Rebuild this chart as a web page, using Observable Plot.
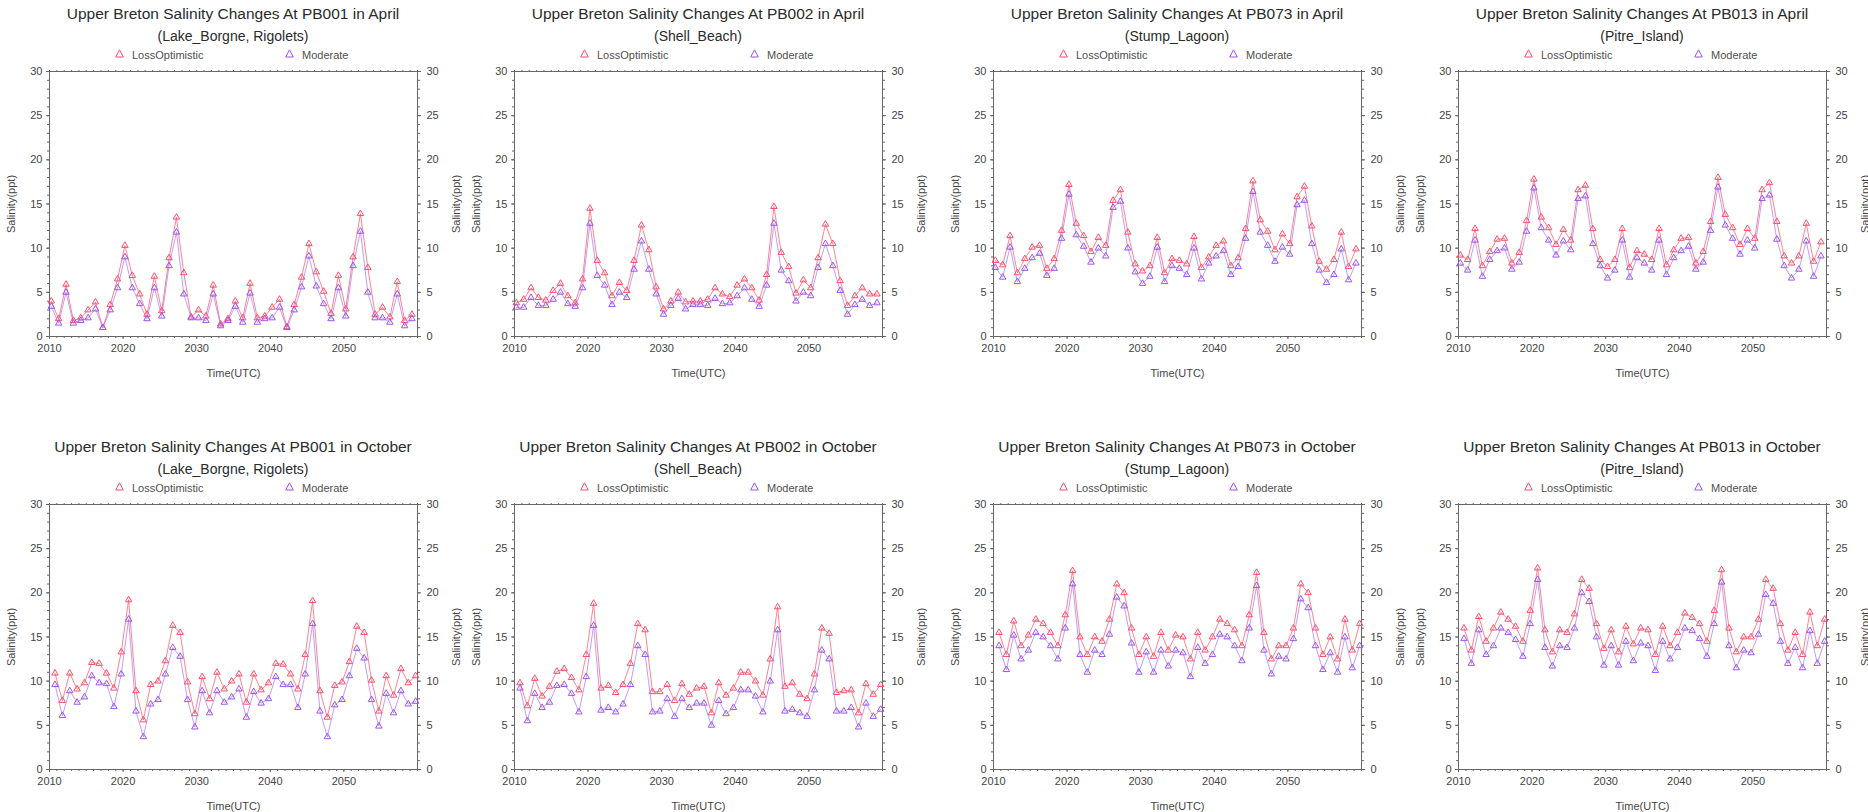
<!DOCTYPE html>
<html lang="en">
<head>
<meta charset="UTF-8">
<title>Upper Breton Salinity Changes</title>
<script src="https://cdn.jsdelivr.net/npm/d3@7"></script>
<script src="https://cdn.jsdelivr.net/npm/@observablehq/plot@0.6"></script>
<style>
  body { margin: 0; width: 1868px; height: 812px; overflow: hidden; background: #fff;
         font-family: "Liberation Sans", Arial, sans-serif; position: relative; }
  .panel { position: absolute; width: 463px; height: 390px; }
  .panel > svg { position: absolute; left: 0; top: 61px; overflow: visible; }
  .title, .sub { position: absolute; left: 233px; transform: translateX(-50%); white-space: nowrap; color: #2a2a2a; }
  .title { top: 5px; font-size: 15.5px; line-height: 18px; }
  .sub { top: 28px; font-size: 14px; line-height: 17px; }
  .legend { position: absolute; top: 48px; left: 0; width: 463px; height: 14px; font-size: 11px; color: #505050; }
  .legend span { position: absolute; top: 0; line-height: 14px; white-space: nowrap; }
  .legend svg { position: absolute; top: 1px; }
</style>
</head>
<body>
<script>
// one value per year, sampled in April or October
const years = [2010, 2011, 2012, 2013, 2014, 2015, 2016, 2017, 2018, 2019,
               2020, 2021, 2022, 2023, 2024, 2025, 2026, 2027, 2028, 2029,
               2030, 2031, 2032, 2033, 2034, 2035, 2036, 2037, 2038, 2039,
               2040, 2041, 2042, 2043, 2044, 2045, 2046, 2047, 2048, 2049,
               2050, 2051, 2052, 2053, 2054, 2055, 2056, 2057, 2058, 2059];
const yTicks = [0, 5, 10, 15, 20, 25, 30];
const xTickYears = [2010, 2020, 2030, 2040, 2050];
const seriesNames = ["LossOptimistic", "Moderate"];

// April salinity (ppt)
const pb001AprLoss = [4.0, 2.0, 5.9, 1.8, 2.1, 3.0, 3.9, 1.0, 3.6, 6.5,
  10.3, 6.9, 4.8, 2.5, 6.8, 2.9, 8.9, 13.5, 7.2, 2.2,
  3.0, 2.3, 5.8, 1.4, 2.0, 4.0, 2.1, 6.0, 2.1, 2.3,
  3.3, 4.2, 1.1, 3.6, 6.7, 10.5, 7.3, 5.1, 2.6, 6.9,
  3.1, 9.0, 13.9, 7.8, 2.5, 3.3, 2.2, 6.2, 1.8, 2.5];
const pb001AprMod = [3.4, 1.5, 5.0, 1.5, 1.8, 2.1, 3.1, 1.0, 3.0, 5.5,
  9.0, 5.5, 3.7, 2.0, 5.5, 2.3, 8.0, 11.8, 4.8, 2.1,
  2.1, 1.8, 4.8, 1.2, 1.8, 3.4, 1.6, 4.9, 1.6, 2.0,
  2.1, 3.3, 1.0, 3.0, 5.6, 9.1, 5.7, 3.7, 2.0, 5.5,
  2.3, 8.0, 11.9, 5.0, 2.1, 2.1, 1.6, 4.8, 1.2, 2.0];
const pb002AprLoss = [3.8, 4.2, 5.5, 4.4, 4.1, 5.2, 6.0, 4.6, 3.8, 6.5,
  14.5, 8.6, 7.2, 4.6, 6.1, 5.2, 8.6, 12.6, 9.8, 5.6,
  3.1, 4.0, 5.0, 3.9, 4.0, 4.0, 4.2, 5.5, 4.8, 4.5,
  5.8, 6.5, 5.5, 4.1, 7.0, 14.7, 9.5, 7.9, 4.9, 6.4,
  5.5, 8.9, 12.7, 10.5, 6.3, 3.5, 4.6, 5.5, 4.8, 4.8];
const pb002AprMod = [3.3, 3.3, 4.4, 3.5, 3.5, 4.2, 5.0, 3.7, 3.4, 5.5,
  12.8, 6.9, 5.8, 3.6, 5.0, 4.4, 7.6, 10.8, 7.6, 4.8,
  2.5, 3.5, 4.3, 3.1, 3.6, 3.6, 3.5, 4.3, 3.7, 3.8,
  4.6, 5.5, 4.2, 3.4, 5.8, 12.8, 7.5, 6.3, 4.0, 5.0,
  4.6, 7.8, 10.5, 8.0, 5.2, 2.5, 3.6, 4.2, 3.5, 3.8];
const pb073AprLoss = [8.6, 8.1, 11.4, 7.2, 8.8, 10.1, 10.3, 7.7, 8.8, 12.0,
  17.2, 12.8, 11.4, 9.6, 11.2, 10.3, 15.4, 16.6, 11.8, 8.2,
  7.4, 8.0, 11.2, 7.2, 8.8, 8.6, 8.2, 11.3, 7.8, 9.0,
  10.3, 10.8, 8.0, 8.9, 12.2, 17.6, 13.2, 11.9, 9.8, 11.6,
  10.5, 15.8, 17.0, 12.5, 8.5, 7.6, 8.7, 11.8, 7.9, 9.9];
const pb073AprMod = [7.8, 6.7, 10.1, 6.2, 7.7, 8.9, 9.4, 6.9, 7.7, 11.1,
  16.1, 11.5, 10.2, 8.4, 10.0, 9.1, 14.6, 15.3, 10.0, 7.3,
  6.0, 6.8, 10.1, 6.2, 8.0, 7.7, 7.0, 10.0, 6.5, 8.3,
  9.1, 9.7, 7.0, 7.9, 11.1, 16.4, 11.8, 10.3, 8.5, 10.1,
  9.3, 14.9, 15.4, 10.5, 7.5, 6.1, 7.0, 9.9, 6.4, 8.3];
const pb013AprLoss = [9.2, 8.7, 12.2, 8.0, 9.6, 11.0, 11.1, 8.3, 9.5, 13.1,
  17.8, 13.5, 12.3, 10.4, 12.1, 10.9, 16.6, 17.1, 12.2, 8.7,
  7.9, 8.7, 12.2, 7.8, 9.7, 9.3, 8.7, 12.2, 8.1, 9.8,
  11.1, 11.2, 8.3, 9.6, 13.0, 18.0, 13.8, 12.3, 10.4, 12.2,
  11.1, 16.6, 17.4, 13.0, 9.1, 8.3, 9.1, 12.8, 8.5, 10.7];
const pb013AprMod = [8.3, 7.5, 10.9, 6.8, 8.7, 9.7, 10.0, 7.6, 8.4, 11.9,
  16.8, 12.3, 10.9, 9.2, 10.8, 9.8, 15.6, 15.9, 10.5, 8.0,
  6.6, 7.5, 10.9, 6.7, 8.9, 8.3, 7.5, 10.9, 7.0, 8.9,
  9.7, 10.2, 7.6, 8.4, 12.0, 16.9, 12.6, 11.1, 9.3, 10.9,
  10.0, 15.6, 16.0, 11.0, 8.0, 6.6, 7.6, 10.8, 6.8, 9.1];

// October salinity (ppt)
const pb001OctLoss = [10.9, 7.8, 10.9, 9.1, 9.8, 12.1, 12.0, 10.9, 9.2, 13.3,
  19.2, 8.9, 5.6, 9.6, 10.0, 12.3, 16.3, 15.5, 9.9, 6.3,
  10.5, 8.0, 11.0, 9.1, 10.0, 10.8, 7.6, 10.8, 9.0, 9.8,
  12.0, 11.9, 10.8, 9.1, 13.0, 19.1, 8.9, 5.9, 9.5, 9.9,
  12.2, 16.2, 15.5, 10.1, 6.6, 10.6, 8.4, 11.4, 9.8, 10.6];
const pb001OctMod = [9.6, 6.1, 8.9, 7.6, 8.2, 10.6, 9.8, 9.7, 7.1, 10.8,
  17.0, 6.6, 3.7, 7.4, 7.9, 10.8, 13.8, 12.8, 7.9, 4.8,
  8.9, 6.4, 8.9, 7.6, 8.2, 9.1, 5.9, 8.8, 7.5, 8.0,
  10.5, 9.6, 9.6, 7.0, 10.8, 16.5, 6.6, 3.7, 7.3, 7.9,
  10.6, 13.7, 12.6, 7.9, 4.9, 8.6, 6.4, 8.9, 7.4, 7.7];
const pb002OctLoss = [9.8, 7.2, 10.3, 8.3, 9.4, 11.1, 11.4, 10.4, 9.0, 13.0,
  18.8, 9.2, 9.5, 8.7, 9.6, 12.0, 16.5, 15.8, 8.8, 8.8,
  9.6, 7.8, 9.7, 8.5, 9.2, 9.4, 6.4, 9.8, 8.4, 9.2,
  11.0, 11.0, 10.0, 8.4, 12.5, 18.4, 9.4, 9.8, 8.5, 8.0,
  10.8, 16.0, 15.4, 8.7, 8.9, 9.0, 6.4, 9.7, 8.5, 9.6];
const pb002OctMod = [9.2, 5.5, 8.6, 7.0, 7.6, 9.5, 9.6, 8.6, 6.5, 10.5,
  16.3, 6.7, 7.0, 6.5, 7.4, 9.6, 14.0, 13.0, 6.5, 6.6,
  8.0, 6.0, 8.0, 7.0, 7.5, 7.5, 5.0, 7.8, 6.3, 7.0,
  9.0, 9.0, 8.3, 6.5, 10.0, 15.8, 6.6, 6.8, 6.4, 6.0,
  9.0, 13.5, 12.5, 6.6, 6.6, 7.0, 4.8, 7.5, 6.0, 6.8];
const pb073OctLoss = [15.5, 13.0, 16.8, 14.0, 15.2, 17.0, 16.5, 15.5, 14.0, 17.5,
  22.5, 15.0, 13.0, 15.0, 14.5, 17.0, 21.0, 20.0, 16.0, 13.0,
  15.0, 12.8, 15.5, 13.5, 15.2, 15.0, 12.5, 15.5, 13.5, 15.0,
  17.0, 16.5, 15.8, 14.0, 17.5, 22.3, 15.5, 12.5, 14.0, 14.0,
  16.0, 21.0, 20.0, 16.0, 13.0, 15.0, 12.5, 17.0, 13.5, 16.5];
const pb073OctMod = [14.0, 11.3, 15.2, 12.5, 13.5, 15.5, 15.0, 14.0, 12.5, 16.0,
  21.0, 13.0, 11.0, 13.5, 13.0, 15.3, 19.5, 18.5, 14.3, 11.0,
  13.3, 11.0, 13.5, 11.7, 13.5, 13.2, 10.5, 13.8, 12.0, 13.0,
  15.3, 15.0, 14.0, 12.3, 16.0, 20.8, 13.5, 10.8, 12.8, 12.5,
  14.8, 19.3, 18.3, 14.0, 11.3, 13.2, 11.0, 15.0, 11.5, 14.0];
const pb013OctLoss = [16.0, 13.5, 17.3, 14.5, 16.0, 17.8, 17.0, 16.2, 14.5, 18.0,
  22.8, 15.8, 13.3, 15.8, 15.5, 17.6, 21.5, 20.5, 16.5, 13.7,
  15.8, 13.3, 16.2, 14.2, 16.0, 15.8, 13.0, 16.2, 14.0, 15.5,
  17.7, 17.2, 16.5, 14.5, 18.0, 22.6, 16.0, 13.3, 15.0, 15.0,
  17.0, 21.5, 20.5, 16.5, 13.5, 15.5, 13.0, 17.8, 14.0, 17.0];
const pb013OctMod = [14.8, 12.0, 15.8, 13.0, 14.0, 16.0, 15.5, 14.7, 12.8, 16.5,
  21.5, 13.8, 11.7, 14.0, 13.8, 16.0, 20.0, 19.0, 15.0, 11.8,
  14.0, 11.8, 14.5, 12.3, 14.3, 14.0, 11.2, 14.5, 12.5, 13.8,
  16.0, 15.7, 14.8, 12.8, 16.5, 21.2, 14.0, 11.5, 13.5, 13.2,
  15.3, 19.8, 18.8, 14.5, 12.0, 13.8, 11.5, 15.7, 12.0, 14.5];

const panels = [
  {station: "PB001", site: "Lake_Borgne, Rigolets", month: "April", loss: pb001AprLoss, mod: pb001AprMod},
  {station: "PB002", site: "Shell_Beach", month: "April", loss: pb002AprLoss, mod: pb002AprMod},
  {station: "PB073", site: "Stump_Lagoon", month: "April", loss: pb073AprLoss, mod: pb073AprMod},
  {station: "PB013", site: "Pitre_Island", month: "April", loss: pb013AprLoss, mod: pb013AprMod},
  {station: "PB001", site: "Lake_Borgne, Rigolets", month: "October", loss: pb001OctLoss, mod: pb001OctMod},
  {station: "PB002", site: "Shell_Beach", month: "October", loss: pb002OctLoss, mod: pb002OctMod},
  {station: "PB073", site: "Stump_Lagoon", month: "October", loss: pb073OctLoss, mod: pb073OctMod},
  {station: "PB013", site: "Pitre_Island", month: "October", loss: pb013OctLoss, mod: pb013OctMod}
];

const monthIndex = {April: 3, October: 9};
const colLeft = [0, 465, 944, 1409];
const rowTop = [0, 433];
const redLine = "#ff5a6a", redMark = "#ff4d6d";
const purpleLine = "#b07af5", purpleMark = "#9b55ec";

const utc = y => new Date(Date.UTC(y, 0, 1));
const minorX = years.concat([2060]).map(utc);
const majorX = xTickYears.map(utc);
const minorY = d3.range(0, 31);

// small open triangle for the legend
function triangle(color, left) {
  return `<svg style="left:${left}px" width="9" height="9" viewBox="0 0 9 9">` +
         `<polygon points="4.5,0.8 8.3,8 0.7,8" fill="none" stroke="${color}" stroke-width="1"/></svg>`;
}

panels.forEach((p, i) => {
  const div = document.createElement("div");
  div.className = "panel";
  div.style.left = colLeft[i % 4] + "px";
  div.style.top = rowTop[Math.floor(i / 4)] + "px";
  div.innerHTML =
    `<div class="title">Upper Breton Salinity Changes At ${p.station} in ${p.month}</div>` +
    `<div class="sub">(${p.site})</div>` +
    `<div class="legend">` +
      triangle(redMark, 115) + `<span style="left:132px">${seriesNames[0]}</span>` +
      triangle(purpleMark, 285) + `<span style="left:302px">${seriesNames[1]}</span>` +
    `</div>`;

  const m = monthIndex[p.month];
  const lossData = years.map((y, k) => ({date: new Date(Date.UTC(y, m, 1)), value: p.loss[k]}));
  const modData = years.map((y, k) => ({date: new Date(Date.UTC(y, m, 1)), value: p.mod[k]}));

  const chart = Plot.plot({
    width: 463,
    height: 320,
    marginLeft: 49,
    marginRight: 46,
    marginTop: 10,
    marginBottom: 45,
    style: {fontFamily: "Liberation Sans, Arial, sans-serif", fontSize: "11px", color: "#444", background: "transparent"},
    x: {type: "utc", domain: [utc(2010), utc(2060)]},
    y: {domain: [0, 30]},
    marks: [
      Plot.frame({stroke: "#666"}),
      Plot.axisX(minorX, {anchor: "bottom", tickSize: 2, fill: "none", stroke: "#666"}),
      Plot.axisX(minorX, {anchor: "top", tickSize: 2, fill: "none", stroke: "#666"}),
      Plot.axisX(majorX, {anchor: "bottom", tickSize: 3, tickPadding: 5, stroke: "#666",
        tickFormat: d3.utcFormat("%Y"), label: "Time(UTC)", labelAnchor: "center", labelArrow: "none", labelOffset: 40}),
      Plot.axisY(minorY, {anchor: "left", tickSize: 2, fill: "none", stroke: "#666"}),
      Plot.axisY(minorY, {anchor: "right", tickSize: 2, fill: "none", stroke: "#666"}),
      Plot.axisY(yTicks, {anchor: "left", tickSize: 3, tickPadding: 4, stroke: "#666",
        label: "Salinity(ppt)", labelAnchor: "center", labelArrow: "none", labelOffset: 42}),
      Plot.axisY(yTicks, {anchor: "right", tickSize: 3, tickPadding: 6, stroke: "#666",
        label: "Salinity(ppt)", labelAnchor: "center", labelArrow: "none", labelOffset: 42}),
      Plot.line(lossData, {x: "date", y: "value", stroke: redLine, strokeWidth: 1, strokeOpacity: 0.75}),
      Plot.line(modData, {x: "date", y: "value", stroke: purpleLine, strokeWidth: 1, strokeOpacity: 0.75}),
      Plot.dot(lossData, {x: "date", y: "value", symbol: "triangle", r: 2.4, stroke: redMark, strokeWidth: 1, fill: "none"}),
      Plot.dot(modData, {x: "date", y: "value", symbol: "triangle", r: 2.4, stroke: purpleMark, strokeWidth: 1, fill: "none"})
    ]
  });
  div.appendChild(chart);
  document.body.appendChild(div);
});
</script>
</body>
</html>
